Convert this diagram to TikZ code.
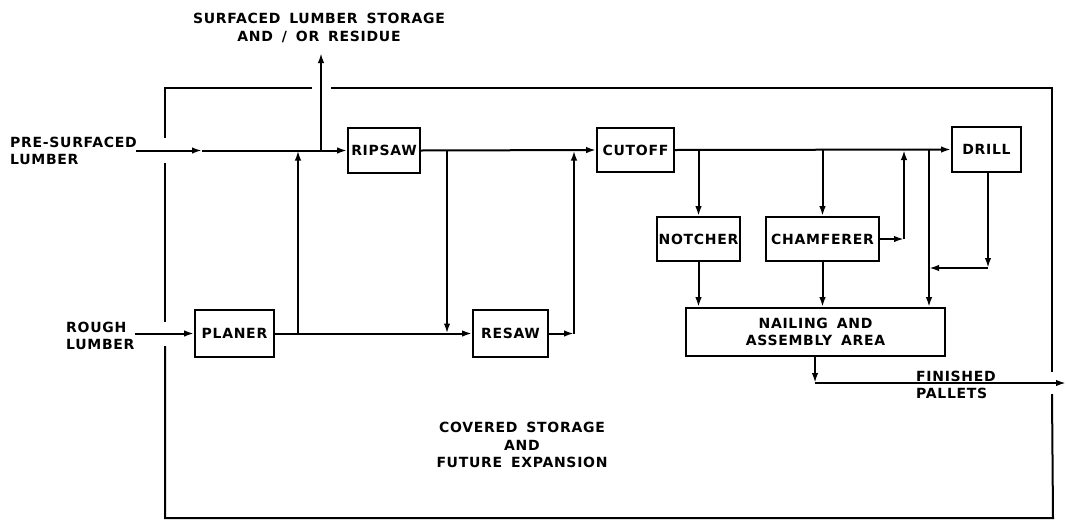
\documentclass[tikz,border=0pt]{standalone}
\usepackage{fontspec}
\setmainfont{DejaVu Sans}[WordSpace=1.6,LetterSpace=5]
\usetikzlibrary{arrows.meta}
\begin{document}
\begin{tikzpicture}[x=1pt,y=-1pt,
  flow/.style={line width=2pt,-{Latex[length=10pt,width=6.5pt]}},
  wall/.style={line width=2pt},
  unit/.style={draw,line width=1.8pt,inner sep=0pt,align=center,
    font=\bfseries\fontsize{14}{17.5}\selectfont},
  lbl/.style={inner sep=0pt,font=\bfseries\fontsize{14}{17.5}\selectfont}]
\useasboundingbox (0,0) rectangle (1066,520);
% building outline
\draw[wall] (312,88) -- (165,88) -- (165,138);
\draw[wall] (331,88) -- (1052,88) -- (1052,372);
\draw[wall] (1052,394) -- (1053,518) -- (165,518) -- (165,346);
\draw[wall] (165,322) -- (165,163);
% machines
\node[unit,minimum width=72pt,minimum height=45pt] (ripsaw) at (384,150.5) {RIPSAW};
\node[unit,minimum width=77pt,minimum height=44pt] (cutoff) at (635.5,150) {CUTOFF};
\node[unit,minimum width=69pt,minimum height=45pt] (drill) at (986.5,149.5) {DRILL};
\node[unit,minimum width=83pt,minimum height=44pt] (notcher) at (698.5,239) {NOTCHER};
\node[unit,minimum width=113pt,minimum height=44pt] (chamferer) at (822.5,239) {CHAMFERER};
\node[unit,minimum width=79pt,minimum height=47pt] (planer) at (234.5,333.5) {PLANER};
\node[unit,minimum width=75pt,minimum height=47pt] (resaw) at (510.5,333.5) {RESAW};
\node[unit,minimum width=259pt,minimum height=48pt] (nailing) at (815.5,332) {NAILING AND\\ASSEMBLY AREA};
% labels
\node[lbl,align=center] (storage) at (319,28) {SURFACED LUMBER STORAGE\\AND / OR RESIDUE};
\node[lbl,align=left,anchor=west] (presurf) at (10,151) {PRE-SURFACED\\LUMBER};
\node[lbl,align=left,anchor=west] (rough) at (66,336) {ROUGH\\LUMBER};
\node[lbl,align=center] (covered) at (522,445) {COVERED STORAGE\\AND\\FUTURE EXPANSION};
\node[lbl,align=left,anchor=west] (finished) at (916,385) {FINISHED\\PALLETS};
% junction coordinates
\coordinate (psin) at (136,150.5);
\coordinate (psmid) at (202,150.5);
\coordinate (jup) at (321,150.5);
\coordinate (uptop) at (321,53);
\coordinate (j1) at (298,150.5);
\coordinate (j2) at (298,333.5);
\coordinate (j3) at (447,150.5);
\coordinate (j4) at (447,333.5);
\coordinate (r1) at (574,333.5);
\coordinate (r2) at (574,150.5);
\coordinate (c1) at (904,239);
\coordinate (c2) at (904,150);
\coordinate (d1) at (929,150);
\coordinate (d2) at (988,268);
\coordinate (d3) at (929,268);
\coordinate (n1) at (815,383);
\coordinate (fp) at (1066,383);
% connectors
\draw[flow] (psin) -- (psmid);
\draw[flow] (psmid) -- (ripsaw.west);
\draw[flow] (jup) -- (uptop);
\draw[flow] (rough.east |- planer.west) -- (planer.west);
\draw[flow] (planer.east) -- (resaw.west);
\draw[flow] (j2) -- (j1);
\draw[flow] (j3) -- (j4);
\draw[flow] (ripsaw.east) -- (cutoff.west);
\draw[flow] (resaw.east) -- (r1);
\draw[flow] (r1) -- (r2);
\draw[flow] (cutoff.east) -- (drill.west);
\draw[flow] (notcher.north |- cutoff.east) -- (notcher.north);
\draw[flow] (chamferer.north |- cutoff.east) -- (chamferer.north);
\draw[flow] (chamferer.east) -- (c1);
\draw[flow] (c1) -- (c2);
\draw[flow] (d1) -- (d1 |- nailing.north);
\draw[flow] (drill.south -| d2) -- (d2);
\draw[flow] (d2) -- (d3);
\draw[flow] (notcher.south) -- (notcher.south |- nailing.north);
\draw[flow] (chamferer.south) -- (chamferer.south |- nailing.north);
\draw[flow] (nailing.south -| n1) -- (n1);
\draw[flow] (n1) -- (fp);
\end{tikzpicture}
\end{document}
